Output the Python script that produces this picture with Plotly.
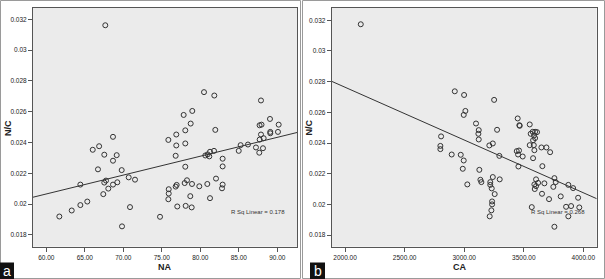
import plotly.graph_objects as go

W, H = 605, 279

# ---------------- data ----------------
na_x = [67.66, 68.66, 66.86, 66.03, 67.53, 69.14, 68.66, 66.71, 69.79, 70.70,
        71.52, 64.42, 67.75, 67.53, 69.22, 68.66, 68.05, 67.40, 65.32, 64.42,
        63.30, 61.69, 70.87, 69.83, 74.77, 80.48, 81.82, 87.88, 77.84, 78.96,
        78.75, 89.05, 87.70, 87.95, 90.18, 78.05, 81.95, 76.88, 89.09, 89.09,
        90.09, 87.88, 75.85, 76.88, 78.05, 87.71, 88.23, 85.24, 86.19, 87.23,
        88.14, 84.99, 87.66, 76.80, 80.65, 81.26, 81.78, 81.17, 80.96, 82.90,
        82.90, 78.05, 76.93, 76.80, 77.97, 78.27, 78.92, 79.87, 80.91, 82.04,
        82.90, 82.82, 75.90, 75.90, 75.85, 78.70, 81.26, 77.01, 78.10, 78.88]
na_nc = [0.03161, 0.02437, 0.02376, 0.02353, 0.02321, 0.02318, 0.02282, 0.02226, 0.02221, 0.02174,
         0.02159, 0.02127, 0.02153, 0.02140, 0.02142, 0.02127, 0.02101, 0.02065, 0.02017, 0.01994,
         0.01959, 0.01920, 0.01981, 0.01856, 0.01918, 0.02727, 0.02705, 0.02673, 0.02579, 0.02605,
         0.02523, 0.02553, 0.02512, 0.02516, 0.02516, 0.02479, 0.02482, 0.02452, 0.02469, 0.02460,
         0.02469, 0.02452, 0.02417, 0.02381, 0.02394, 0.02419, 0.02428, 0.02383, 0.02387, 0.02368,
         0.02363, 0.02346, 0.02334, 0.02314, 0.02316, 0.02340, 0.02346, 0.02310, 0.02323, 0.02295,
         0.02245, 0.02243, 0.02125, 0.02114, 0.02137, 0.02155, 0.02131, 0.02116, 0.02131, 0.02166,
         0.02127, 0.02103, 0.02097, 0.02069, 0.02032, 0.02052, 0.02039, 0.01985, 0.01989, 0.01979]

ca_x = [2132, 2921, 2999, 3251, 3010, 2996, 3449, 3463, 3466, 3550, 3099, 3122,
        3119, 3122, 3276, 3575, 3595, 3611, 3558, 3586, 3595, 3578, 3550, 3584,
        3589, 3648, 3690, 3721, 3211, 3240, 3441, 3460, 3452, 3491, 3295, 3578,
        3455, 3656, 2806, 2800, 2800, 2895, 2971, 2996, 2988, 3127, 3026, 3136,
        3144, 3240, 3298, 3219, 3219, 3231, 3256, 3234, 3234, 3228, 3214, 3757,
        3768, 3603, 3620, 3589, 3603, 3592, 3673, 3748, 3653, 3712, 3810, 3874,
        3914, 3956, 3567, 3855, 3897, 3966, 3874, 3757]
ca_nc = [0.03174, 0.02737, 0.02713, 0.02681, 0.02609, 0.02583, 0.02560, 0.02516, 0.02512, 0.02521,
         0.02527, 0.02484, 0.02460, 0.02423, 0.02486, 0.02473, 0.02473, 0.02471, 0.02460, 0.02449,
         0.02432, 0.02418, 0.02386, 0.02386, 0.02353, 0.02371, 0.02371, 0.02340, 0.02384, 0.02397,
         0.02347, 0.02351, 0.02325, 0.02312, 0.02316, 0.02301, 0.02247, 0.02249, 0.02443, 0.02381,
         0.02360, 0.02325, 0.02323, 0.02286, 0.02232, 0.02225, 0.02130, 0.02160, 0.02145, 0.02178,
         0.02163, 0.02145, 0.02127, 0.02104, 0.02067, 0.02019, 0.02000, 0.01961, 0.01922, 0.02171,
         0.02145, 0.02163, 0.02140, 0.02130, 0.02119, 0.02100, 0.02137, 0.02114, 0.02069, 0.02034,
         0.02052, 0.02127, 0.02106, 0.02043, 0.01982, 0.01984, 0.01989, 0.01980, 0.01922, 0.01854]

# fitted regression lines (end points at the axis limits)
na_fit_x = [58.27, 92.56]
na_fit_y = [0.02045, 0.02465]
ca_fit_x = [1888, 4112]
ca_fit_y = [0.02802, 0.02037]

na_r2_label = "R Sq Linear = 0.178"
ca_r2_label = "R Sq Linear = 0.268"

nc_ticks = [0.018, 0.020, 0.022, 0.024, 0.026, 0.028, 0.030, 0.032]
nc_ticktext = ["0.018", "0.02", "0.022", "0.024", "0.026", "0.028", "0.03", "0.032"]
na_ticks = [60, 65, 70, 75, 80, 85, 90]
ca_ticks = [2000, 2500, 3000, 3500, 4000]

# ---------------- helpers ----------------
def px(x):
    return x / W

def py(y):
    return 1 - y / H

tick_font = dict(family="Liberation Sans Narrow, Arial Narrow, Liberation Sans, Arial", size=6.5, color="#222")
marker = dict(symbol="circle-open", size=5, color="#333", line=dict(width=1, color="#333"))
line_col = "#333"

fig = go.Figure()
fig.add_trace(go.Scatter(x=na_x, y=na_nc, mode="markers", marker=marker,
                         xaxis="x", yaxis="y", showlegend=False))
fig.add_trace(go.Scatter(x=na_fit_x, y=na_fit_y, mode="lines", line=dict(color=line_col, width=1),
                         xaxis="x", yaxis="y", showlegend=False))
fig.add_trace(go.Scatter(x=ca_x, y=ca_nc, mode="markers", marker=marker,
                         xaxis="x2", yaxis="y2", showlegend=False))
fig.add_trace(go.Scatter(x=ca_fit_x, y=ca_fit_y, mode="lines", line=dict(color=line_col, width=1),
                         xaxis="x2", yaxis="y2", showlegend=False))

ax_common = dict(showgrid=False, zeroline=False, showline=True, mirror=True,
                 linecolor="#555", linewidth=1, ticks="outside", ticklen=4,
                 tickcolor="#555", tickwidth=1, tickfont=tick_font)

ydom = [py(246.7), py(8)]
fig.update_layout(
    width=W, height=H, autosize=False,
    margin=dict(l=0, r=0, t=0, b=0),
    paper_bgcolor="white", plot_bgcolor="#ebebeb",
    xaxis=dict(domain=[px(33), px(297)], range=[58.27, 92.56], anchor="y",
               tickvals=na_ticks, ticktext=[f"{v:.2f}" for v in na_ticks], **ax_common),
    yaxis=dict(domain=ydom, range=[0.01724, 0.03273], anchor="x",
               tickvals=nc_ticks, ticktext=nc_ticktext, **ax_common),
    xaxis2=dict(domain=[px(331.7), px(596.7)], range=[1888, 4112], anchor="y2",
                tickvals=ca_ticks, ticktext=[f"{v:.2f}" for v in ca_ticks], **ax_common),
    yaxis2=dict(domain=ydom, range=[0.01724, 0.0328], anchor="x2",
                tickvals=nc_ticks, ticktext=nc_ticktext, **ax_common),
)

title_font = dict(family="Liberation Sans, Arial", size=9, color="#222")
ann = []
ann.append(dict(text="<b>NA</b>", x=px(165), y=py(266.5), xref="paper", yref="paper",
                showarrow=False, font=title_font, xanchor="center", yanchor="middle"))
ann.append(dict(text="<b>CA</b>", x=px(460), y=py(266.5), xref="paper", yref="paper",
                showarrow=False, font=title_font, xanchor="center", yanchor="middle"))
ann.append(dict(text="<b>N/C</b>", x=px(8), y=py(128), xref="paper", yref="paper", textangle=-90,
                showarrow=False, font=title_font, xanchor="center", yanchor="middle"))
ann.append(dict(text="<b>N/C</b>", x=px(308.5), y=py(128), xref="paper", yref="paper", textangle=-90,
                showarrow=False, font=title_font, xanchor="center", yanchor="middle"))
r2_font = dict(family="Liberation Sans Narrow, Arial Narrow, Liberation Sans, Arial", size=6, color="#333")
ann.append(dict(text=na_r2_label, x=px(287), y=py(212.3), xref="paper", yref="paper",
                showarrow=False, font=r2_font, xanchor="right", yanchor="middle"))
ann.append(dict(text=ca_r2_label, x=px(587), y=py(212.3), xref="paper", yref="paper",
                showarrow=False, font=r2_font, xanchor="right", yanchor="middle"))
lab_font = dict(family="Liberation Sans, Arial", size=14, color="white")
ann.append(dict(text="a", x=px(7), y=py(270.5), xref="paper", yref="paper",
                showarrow=False, font=lab_font, xanchor="center", yanchor="middle"))
ann.append(dict(text="b", x=px(317.5), y=py(270.5), xref="paper", yref="paper",
                showarrow=False, font=lab_font, xanchor="center", yanchor="middle"))

shapes = []
# panel frames
shapes.append(dict(type="rect", xref="paper", yref="paper", x0=px(0.5), x1=px(300.5), y0=py(278.5), y1=py(0.5),
                   line=dict(color="#9a9a9a", width=1), layer="below"))
shapes.append(dict(type="rect", xref="paper", yref="paper", x0=px(302.5), x1=px(604.5), y0=py(278.5), y1=py(0.5),
                   line=dict(color="#9a9a9a", width=1), layer="below"))
# label boxes
shapes.append(dict(type="rect", xref="paper", yref="paper", x0=px(0), x1=px(14), y0=py(279), y1=py(262.5),
                   fillcolor="#111", line=dict(width=0)))
shapes.append(dict(type="rect", xref="paper", yref="paper", x0=px(310), x1=px(325), y0=py(279), y1=py(262.5),
                   fillcolor="#111", line=dict(width=0)))

fig.update_layout(annotations=ann, shapes=shapes)
fig.write_html("out.html", config={"displayModeBar": False},
               post_script="document.body.style.margin='0';document.body.style.overflow='hidden';")
